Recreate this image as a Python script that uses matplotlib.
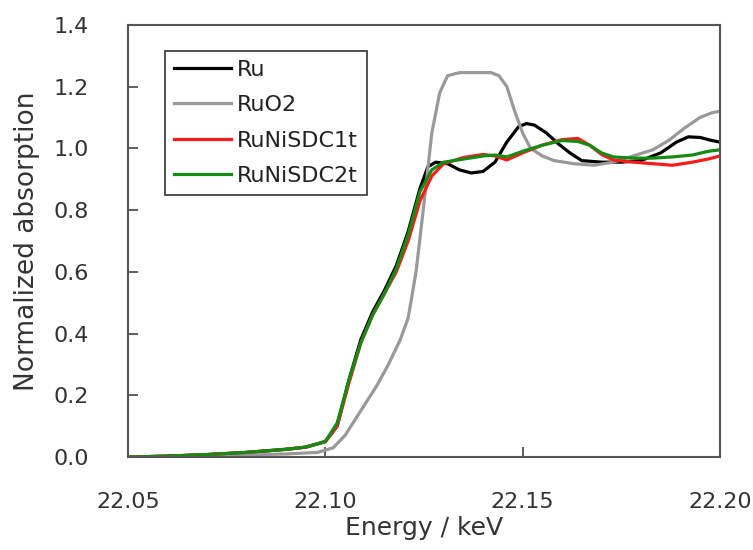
import matplotlib
matplotlib.use("Agg")
import matplotlib.pyplot as plt

plt.rcParams['font.family'] = ['DejaVu Sans']

# Ru foil
ru_e = [22.05, 22.06, 22.07, 22.08, 22.09, 22.095, 22.10, 22.103, 22.106, 22.109,
        22.112, 22.115, 22.118, 22.121, 22.124, 22.126, 22.128, 22.131, 22.134, 22.137,
        22.140, 22.143, 22.146, 22.149, 22.151, 22.153, 22.156, 22.159, 22.162, 22.165,
        22.170, 22.175, 22.180, 22.185, 22.189, 22.192, 22.195, 22.198, 22.20]
ru_v = [0.0, 0.003, 0.008, 0.015, 0.025, 0.032, 0.05, 0.10, 0.25, 0.38,
        0.47, 0.54, 0.62, 0.73, 0.87, 0.94, 0.955, 0.95, 0.93, 0.92,
        0.925, 0.955, 1.02, 1.07, 1.08, 1.075, 1.05, 1.015, 0.985, 0.96,
        0.955, 0.955, 0.96, 0.985, 1.02, 1.037, 1.035, 1.025, 1.02]

# RuO2
ruo2_e = [22.05, 22.07, 22.09, 22.098, 22.102, 22.105, 22.109, 22.113, 22.116, 22.119,
          22.121, 22.123, 22.125, 22.127, 22.129, 22.131, 22.134, 22.138, 22.142, 22.144,
          22.146, 22.148, 22.150, 22.152, 22.155, 22.158, 22.163, 22.168, 22.173, 22.178,
          22.183, 22.187, 22.191, 22.195, 22.198, 22.20]
ruo2_v = [0.0, 0.003, 0.01, 0.015, 0.03, 0.07, 0.15, 0.23, 0.30, 0.38,
          0.45, 0.60, 0.82, 1.05, 1.18, 1.235, 1.245, 1.245, 1.245, 1.235,
          1.20, 1.12, 1.05, 1.0, 0.975, 0.96, 0.95, 0.945, 0.955, 0.975,
          0.995, 1.025, 1.065, 1.10, 1.115, 1.12]

# RuNiSDC samples
dc_e = [22.05, 22.06, 22.07, 22.08, 22.09, 22.095, 22.10, 22.103, 22.106, 22.109,
        22.112, 22.115, 22.118, 22.121, 22.124, 22.127, 22.130, 22.135, 22.140, 22.143,
        22.146, 22.150, 22.155, 22.160, 22.164, 22.167, 22.170, 22.173, 22.178, 22.183,
        22.188, 22.193, 22.197, 22.20]
dc1_v = [0.0, 0.003, 0.008, 0.015, 0.025, 0.032, 0.05, 0.10, 0.24, 0.37,
         0.46, 0.53, 0.60, 0.70, 0.83, 0.91, 0.95, 0.97, 0.98, 0.975,
         0.962, 0.985, 1.01, 1.028, 1.032, 1.01, 0.98, 0.962, 0.955, 0.95,
         0.945, 0.955, 0.965, 0.975]
dc2_v = [0.0, 0.003, 0.008, 0.015, 0.025, 0.032, 0.05, 0.11, 0.25, 0.37,
         0.46, 0.53, 0.61, 0.72, 0.86, 0.93, 0.955, 0.965, 0.975, 0.978,
         0.972, 0.99, 1.01, 1.025, 1.022, 1.01, 0.985, 0.972, 0.968, 0.968,
         0.972, 0.978, 0.99, 0.995]

x_ticks = [22.05, 22.10, 22.15, 22.20]
y_ticks = [0.0, 0.2, 0.4, 0.6, 0.8, 1.0, 1.2, 1.4]

fig = plt.figure(figsize=(7.53, 5.5), dpi=100)
ax = fig.add_axes([0.170, 0.169, 0.786, 0.786])

lw = 2.3
ax.plot(ru_e, ru_v, color='black', lw=lw, label='Ru')
ax.plot(ruo2_e, ruo2_v, color='#999999', lw=lw, label='RuO2')
ax.plot(dc_e, dc1_v, color='#ff1a1a', lw=lw, label='RuNiSDC1t')
ax.plot(dc_e, dc2_v, color='#148c14', lw=lw, label='RuNiSDC2t')

ax.set_xlim(22.05, 22.20)
ax.set_ylim(0, 1.4)
ax.set_xticks(x_ticks)
ax.set_xticklabels(['%.2f' % t for t in x_ticks])
ax.set_yticks(y_ticks)
ax.set_yticklabels(['%.1f' % t for t in y_ticks])
ax.tick_params(direction='in', length=7, width=1.2, colors='#444444',
               labelcolor='#333333', labelsize=16)
ax.tick_params(axis='x', pad=25)
ax.tick_params(axis='y', pad=28)
for s in ax.spines.values():
    s.set_color('#555555')
    s.set_linewidth(1.5)

ax.set_xlabel('Energy / keV', fontsize=18, color='#333333', labelpad=3)
ax.set_ylabel('Normalized absorption', fontsize=19, color='#333333', labelpad=10)

leg = ax.legend(loc='upper left', bbox_to_anchor=(0.0625, 0.94), borderaxespad=0,
                fontsize=16, frameon=True, fancybox=False, handlelength=2.55,
                handletextpad=0.28, labelspacing=0.7, borderpad=0.4,
                labelcolor='#222222')
leg.get_frame().set_edgecolor('#333333')
leg.get_frame().set_linewidth(1.2)
leg.get_frame().set_alpha(1)

fig.savefig('out.png', dpi=100)
